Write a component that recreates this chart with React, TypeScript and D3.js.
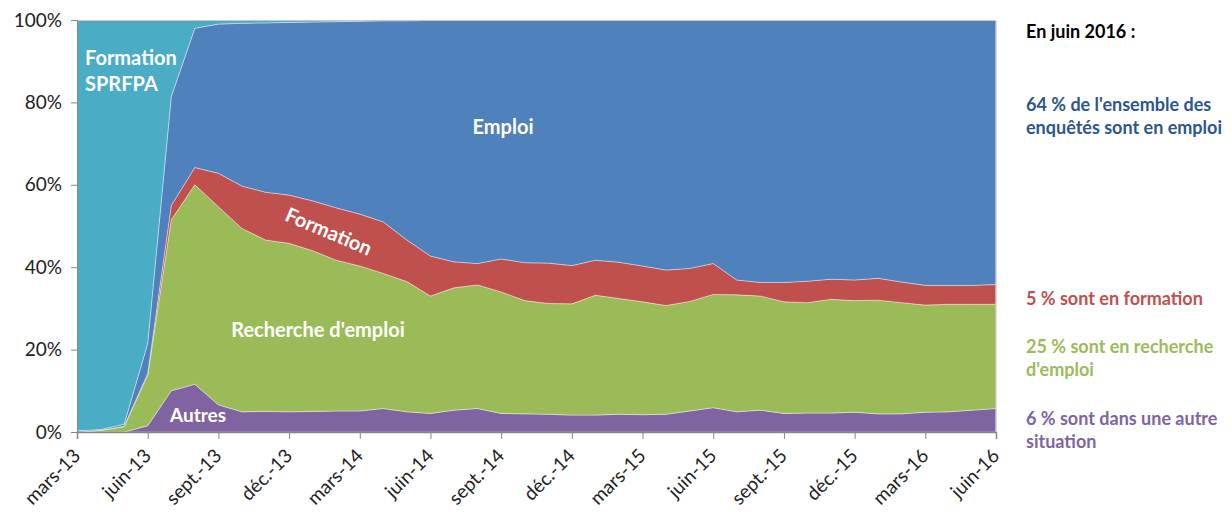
import * as d3 from "d3";
import { useEffect, useRef } from "react";

// months from mars-13 to juin-16
const months = [
  "mars-13", "avr.-13", "mai-13", "juin-13", "juil.-13", "août-13", "sept.-13", "oct.-13", "nov.-13", "déc.-13",
  "janv.-14", "févr.-14", "mars-14", "avr.-14", "mai-14", "juin-14", "juil.-14", "août-14", "sept.-14", "oct.-14",
  "nov.-14", "déc.-14", "janv.-15", "févr.-15", "mars-15", "avr.-15", "mai-15", "juin-15", "juil.-15", "août-15",
  "sept.-15", "oct.-15", "nov.-15", "déc.-15", "janv.-16", "févr.-16", "mars-16", "avr.-16", "mai-16", "juin-16",
];

const autres = [0, 0, 0, 1.5, 10, 11.6, 6.6, 4.9, 5, 4.9, 5, 5.1, 5.1, 5.7, 4.9, 4.5, 5.3, 5.7, 4.5, 4.4, 4.3, 4.1, 4.1, 4.3, 4.2, 4.3, 5.1, 5.9, 4.9, 5.3, 4.5, 4.6, 4.6, 4.8, 4.4, 4.4, 4.8, 4.9, 5.3, 5.7];
const recherche = [0, 0.4, 1.3, 12.3, 41.5, 48.4, 48.1, 44.5, 41.6, 40.9, 39, 36.6, 35.2, 32.8, 31.6, 28.5, 29.7, 30, 29.5, 27.5, 26.9, 27, 29.1, 28.1, 27.4, 26.4, 26.6, 27.5, 28.4, 27.7, 27.1, 26.8, 27.6, 27.1, 27.6, 27, 26, 26.1, 25.7, 25.3];
const formation = [0, 0, 0.1, 0.4, 3.5, 4.2, 8.1, 10.3, 11.6, 11.7, 12.1, 12.7, 12.6, 12.5, 10.1, 9.7, 6.3, 5.2, 8, 9.2, 9.8, 9.3, 8.5, 8.8, 8.7, 8.6, 8, 7.5, 3.6, 3.3, 4.7, 5.2, 4.9, 5, 5.3, 5, 4.8, 4.6, 4.6, 4.8];
const emploi = [0.3, 0.2, 0.5, 7.3, 26.4, 33.8, 36.2, 39.5, 41.1, 41.9, 43.4, 45.2, 46.8, 48.8, 53.2, 57.2, 58.6, 59.1, 58, 58.9, 59, 59.6, 58.3, 58.8, 59.7, 60.7, 60.3, 59.1, 63.1, 63.7, 63.7, 63.4, 62.9, 63.1, 62.7, 63.6, 64.4, 64.4, 64.4, 64.2];
const sprfpa = [99.7, 99.4, 98.1, 78.5, 18.6, 2, 1, 0.8, 0.7, 0.6, 0.5, 0.4, 0.3, 0.2, 0.2, 0.1, 0.1, 0, 0, 0, 0, 0, 0, 0, 0, 0, 0, 0, 0, 0, 0, 0, 0, 0, 0, 0, 0, 0, 0, 0];

const seriesKeys = ["autres", "recherche", "formation", "emploi", "sprfpa"];
const colors = {
  autres: "#8064A2",
  recherche: "#9BBB59",
  formation: "#C0504D",
  emploi: "#4F81BD",
  sprfpa: "#4BACC6",
};

const yTicks = [0, 0.2, 0.4, 0.6, 0.8, 1];

const FONT = "Lato, 'Open Sans', sans-serif";

const App = () => {
  const svgRef = useRef(null);

  useEffect(() => {
    const margin = { top: 20, left: 77 };
    const width = 919;
    const height = 412;

    const data = months.map((m, i) => ({
      month: m,
      autres: autres[i],
      recherche: recherche[i],
      formation: formation[i],
      emploi: emploi[i],
      sprfpa: sprfpa[i],
    }));

    const root = d3.select(svgRef.current);
    root.selectAll("*").remove();
    root.attr("width", 1231).attr("height", 512);

    const svg = root
      .append("g")
      .attr("transform", `translate(${margin.left}, ${margin.top})`);

    const x = d3.scalePoint().domain(months).range([0, width]);
    const y = d3.scaleLinear().domain([0, 1]).range([height, 0]);

    const stacked = d3
      .stack()
      .keys(seriesKeys)
      .offset(d3.stackOffsetExpand)(data);

    const area = d3
      .area()
      .x((d) => x(d.data.month))
      .y0((d) => y(d[0]))
      .y1((d) => y(d[1]));

    svg
      .selectAll(".layer")
      .data(stacked)
      .enter()
      .append("path")
      .attr("class", "layer")
      .attr("d", area)
      .attr("fill", (d) => colors[d.key])
      .attr("stroke", "#ffffff")
      .attr("stroke-opacity", 0.55)
      .attr("stroke-width", 0.7);

    // frame top / right
    svg
      .append("path")
      .attr("d", `M0,0.5H${width}V${height}`)
      .attr("fill", "none")
      .attr("stroke", "#c8c8c8")
      .attr("stroke-width", 1.2);

    // y axis
    const yAxis = svg
      .append("g")
      .call(
        d3.axisLeft(y)
          .tickValues(yTicks)
          .tickFormat(d3.format(".0%"))
          .tickSizeOuter(0)
          .tickSize(6)
      );
    yAxis.select(".domain").attr("stroke", "#868686");
    yAxis.selectAll(".tick line").attr("stroke", "#868686");
    yAxis
      .selectAll(".tick text")
      .attr("x", -15)
      .attr("font-family", FONT)
      .attr("font-size", 19)
      .attr("fill", "#222");

    // x axis
    const tickMonths = months.filter((_, i) => i % 3 === 0);
    const xAxis = svg
      .append("g")
      .attr("transform", `translate(0, ${height})`)
      .call(d3.axisBottom(x).tickValues(tickMonths).tickSizeOuter(0).tickSize(7));
    xAxis.select(".domain").attr("stroke", "#868686").attr("stroke-width", 1.5);
    xAxis.selectAll(".tick line").attr("stroke", "#868686");
    xAxis
      .selectAll(".tick text")
      .attr("font-family", FONT)
      .attr("font-size", 19)
      .attr("fill", "#222")
      .attr("text-anchor", "end")
      .attr("dy", 0)
      .attr("transform", "translate(4, 25) rotate(-45)")
      .attr("y", 0)
      .attr("x", 0);

    // in-chart labels
    const label = (txt, lx, ly, rot = 0, anchor = "start", size = 20) =>
      svg
        .append("text")
        .attr("transform", `translate(${lx - margin.left}, ${ly - margin.top}) rotate(${rot})`)
        .attr("text-anchor", anchor)
        .attr("font-family", FONT)
        .attr("font-weight", "bold")
        .attr("font-size", size)
        .attr("fill", "#ffffff")
        .text(txt);

    label("Formation", 85, 65);
    label("SPRFPA", 85, 91);
    label("Emploi", 503, 134, 0, "middle");
    label("Formation", 326, 238, 23, "middle");
    label("Recherche d'emploi", 318, 337, 0, "middle");
    label("Autres", 198, 422, 0, "middle", 19);

    // right annotations
    const note = (txt, ly, color) =>
      root
        .append("text")
        .attr("x", 1026)
        .attr("y", ly)
        .attr("font-family", FONT)
        .attr("font-weight", "bold")
        .attr("font-size", 18)
        .attr("fill", color)
        .text(txt);

    note("En juin 2016 :", 38, "#000000");
    note("64 % de l'ensemble des", 111, "#2B5690");
    note("enquêtés sont en emploi", 134, "#2B5690");
    note("5 % sont en formation", 305, "#C0504D");
    note("25 % sont en recherche", 353, "#9BBB59");
    note("d'emploi", 376, "#9BBB59");
    note("6 % sont dans une autre", 425, "#8064A2");
    note("situation", 448, "#8064A2");
  }, []);

  return (
    <svg
      ref={svgRef}
      style={{ position: "absolute", left: 0, top: 0, background: "#fff" }}
    ></svg>
  );
};

export default App;
